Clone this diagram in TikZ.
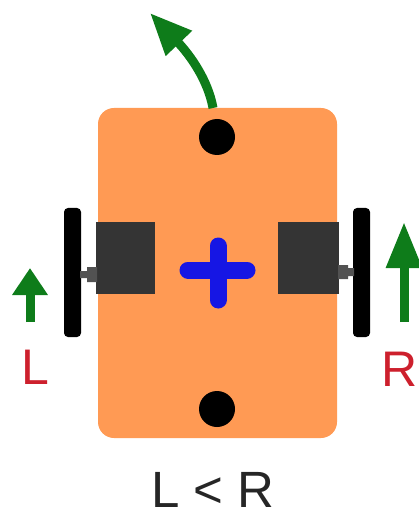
\documentclass[tikz,border=0pt]{standalone}
\usepackage{fontspec}
\setmainfont{Liberation Sans}
\usetikzlibrary{arrows.meta}

\definecolor{chassis}{RGB}{255,154,84}
\definecolor{motorgray}{RGB}{52,52,52}
\definecolor{speedgreen}{RGB}{14,124,26}
\definecolor{sidered}{RGB}{205,32,45}
\definecolor{pivotblue}{RGB}{22,22,228}

\begin{document}
\begin{tikzpicture}[x=1pt,y=-1pt,
  wheel/.style={fill=black,rounded corners=4pt},
  motor/.style={fill=motorgray},
  push/.style={draw=speedgreen,line width=9pt,-{Triangle[length=#1,width=34pt]}},
  side/.style={sidered,font=\fontsize{50}{60}\selectfont,anchor=base,inner sep=0pt}]
\useasboundingbox (0,0) rectangle (419,518);

% chassis and the two caster balls
\fill[chassis,rounded corners=16pt] (98,108) rectangle (337,438);
\fill (217,137) circle (18);
\fill (217,409) circle (18);

% wheels, motors, axles
\fill[wheel] (64,208) rectangle (81,337);
\fill[wheel] (353,208) rectangle (370,337);
\fill[motor] (96,222) rectangle (155,294);
\fill[motor] (278,222) rectangle (339,294);
\fill[motorgray!85] (87,267) rectangle (97,282) (80,271) rectangle (88,278);
\fill[motorgray!85] (338,265) rectangle (348,279) (347,268) rectangle (354,276);

% pivot
\draw[pivotblue,line width=17pt,line cap=round] (188,270) -- (247,270) (218,246) -- (218,300);

% wheel speeds and the resulting turn
\draw[push=27pt] (30,322) -- (30,268);
\draw[push=46pt] (404,322) -- (404,222);
\draw[push=42pt] (213,108) .. controls (208,80) and (190,55) .. (150,13);

\node[side] (lbl) at (35,384) {L};
\node[side] (rbl) at (400,386) {R};
\node[font=\fontsize{51}{60}\selectfont,anchor=base,inner sep=0pt,black!85] (cmp) at (213,507) {L < R};
\end{tikzpicture}
\end{document}
